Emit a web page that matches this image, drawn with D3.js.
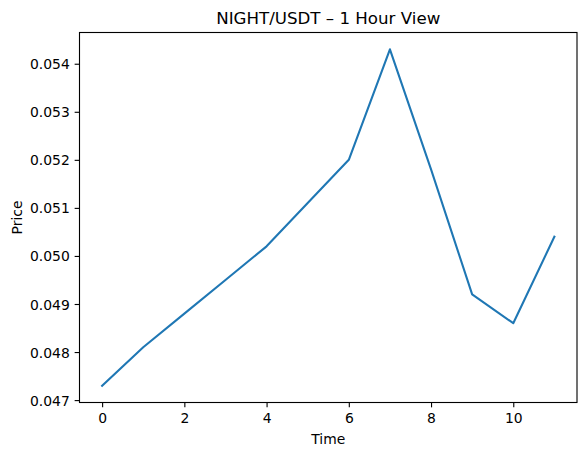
<!DOCTYPE html>
<html>
<head>
<meta charset="utf-8">
<script src="https://cdn.jsdelivr.net/npm/d3@7"></script>
<style>
  html, body { margin: 0; padding: 0; background: #fff; }
  svg { display: block; }
  text { font-family: "DejaVu Sans", sans-serif; fill: #000; }
</style>
</head>
<body>
<svg id="chart" width="584" height="455"></svg>
<script>
// ---- data ----
const times = [0, 1, 2, 3, 4, 5, 6, 7, 8, 9, 10, 11];
const prices = [0.0473, 0.0481, 0.0488, 0.0495, 0.0502, 0.0511, 0.0520, 0.0543, 0.0518, 0.0492, 0.0486, 0.0504];
const xTicks = [0, 2, 4, 6, 8, 10];
const yTicks = [0.047, 0.048, 0.049, 0.050, 0.051, 0.052, 0.053, 0.054];
const titleText = "NIGHT/USDT – 1 Hour View";
const xLabel = "Time";
const yLabel = "Price";

(function () {
// ---- layout ----
const W = 584, H = 455;
const pLeft = 79.5, pRight = 577, pTop = 32.5, pBottom = 402.5;
const tickLen = 4.86, tickPad = 4.86;
const tickFont = 13.9;

const svg = d3.select("#chart");

const xMin = d3.min(times), xMax = d3.max(times);
const xm = (xMax - xMin) * 0.05;
const x = d3.scaleLinear().domain([xMin - xm, xMax + xm]).range([pLeft, pRight]);
const yMin = d3.min(prices), yMax = d3.max(prices);
const ym = (yMax - yMin) * 0.05;
const y = d3.scaleLinear().domain([yMin - ym, yMax + ym]).range([pBottom, pTop]);

// line
svg.append("path")
  .datum(times.map((t, i) => [t, prices[i]]))
  .attr("fill", "none")
  .attr("stroke", "#1f77b4")
  .attr("stroke-width", 2.08)
  .attr("stroke-linejoin", "round")
  .attr("stroke-linecap", "square")
  .attr("d", d3.line().x(d => x(d[0])).y(d => y(d[1])));

// x axis
const gx = svg.append("g")
  .attr("transform", `translate(0,${pBottom})`)
  .call(d3.axisBottom(x).tickValues(xTicks).tickFormat(d3.format("d"))
    .tickSize(tickLen).tickPadding(tickPad).tickSizeOuter(0));
gx.select(".domain").remove();
gx.selectAll(".tick line").attr("stroke", "#000").attr("stroke-width", 1.11);
gx.selectAll(".tick text")
  .attr("font-family", "DejaVu Sans")
  .attr("font-size", tickFont)
  .attr("fill", "#000")
  .attr("dy", "0.76em");

// y axis
const gy = svg.append("g")
  .attr("transform", `translate(${pLeft},0)`)
  .call(d3.axisLeft(y).tickValues(yTicks).tickFormat(d3.format(".3f"))
    .tickSize(tickLen).tickPadding(tickPad).tickSizeOuter(0));
gy.select(".domain").remove();
gy.selectAll(".tick line").attr("stroke", "#000").attr("stroke-width", 1.11);
gy.selectAll(".tick text")
  .attr("font-family", "DejaVu Sans")
  .attr("font-size", tickFont)
  .attr("fill", "#000")
  .attr("dy", "0.36em");

// frame
svg.append("rect")
  .attr("x", pLeft).attr("y", pTop)
  .attr("width", pRight - pLeft).attr("height", pBottom - pTop)
  .attr("fill", "none")
  .attr("stroke", "#000")
  .attr("stroke-width", 1.11);

// title
svg.append("text")
  .attr("x", (pLeft + pRight) / 2)
  .attr("y", 24.2)
  .attr("text-anchor", "middle")
  .attr("font-size", 16.67)
  .text(titleText);

// x label
svg.append("text")
  .attr("x", (pLeft + pRight) / 2)
  .attr("y", 444)
  .attr("text-anchor", "middle")
  .attr("font-size", tickFont)
  .text(xLabel);

// y label
svg.append("text")
  .attr("transform", `translate(21.5,${(pTop + pBottom) / 2}) rotate(-90)`)
  .attr("text-anchor", "middle")
  .attr("font-size", tickFont)
  .text(yLabel);
})();
</script>
</body>
</html>
